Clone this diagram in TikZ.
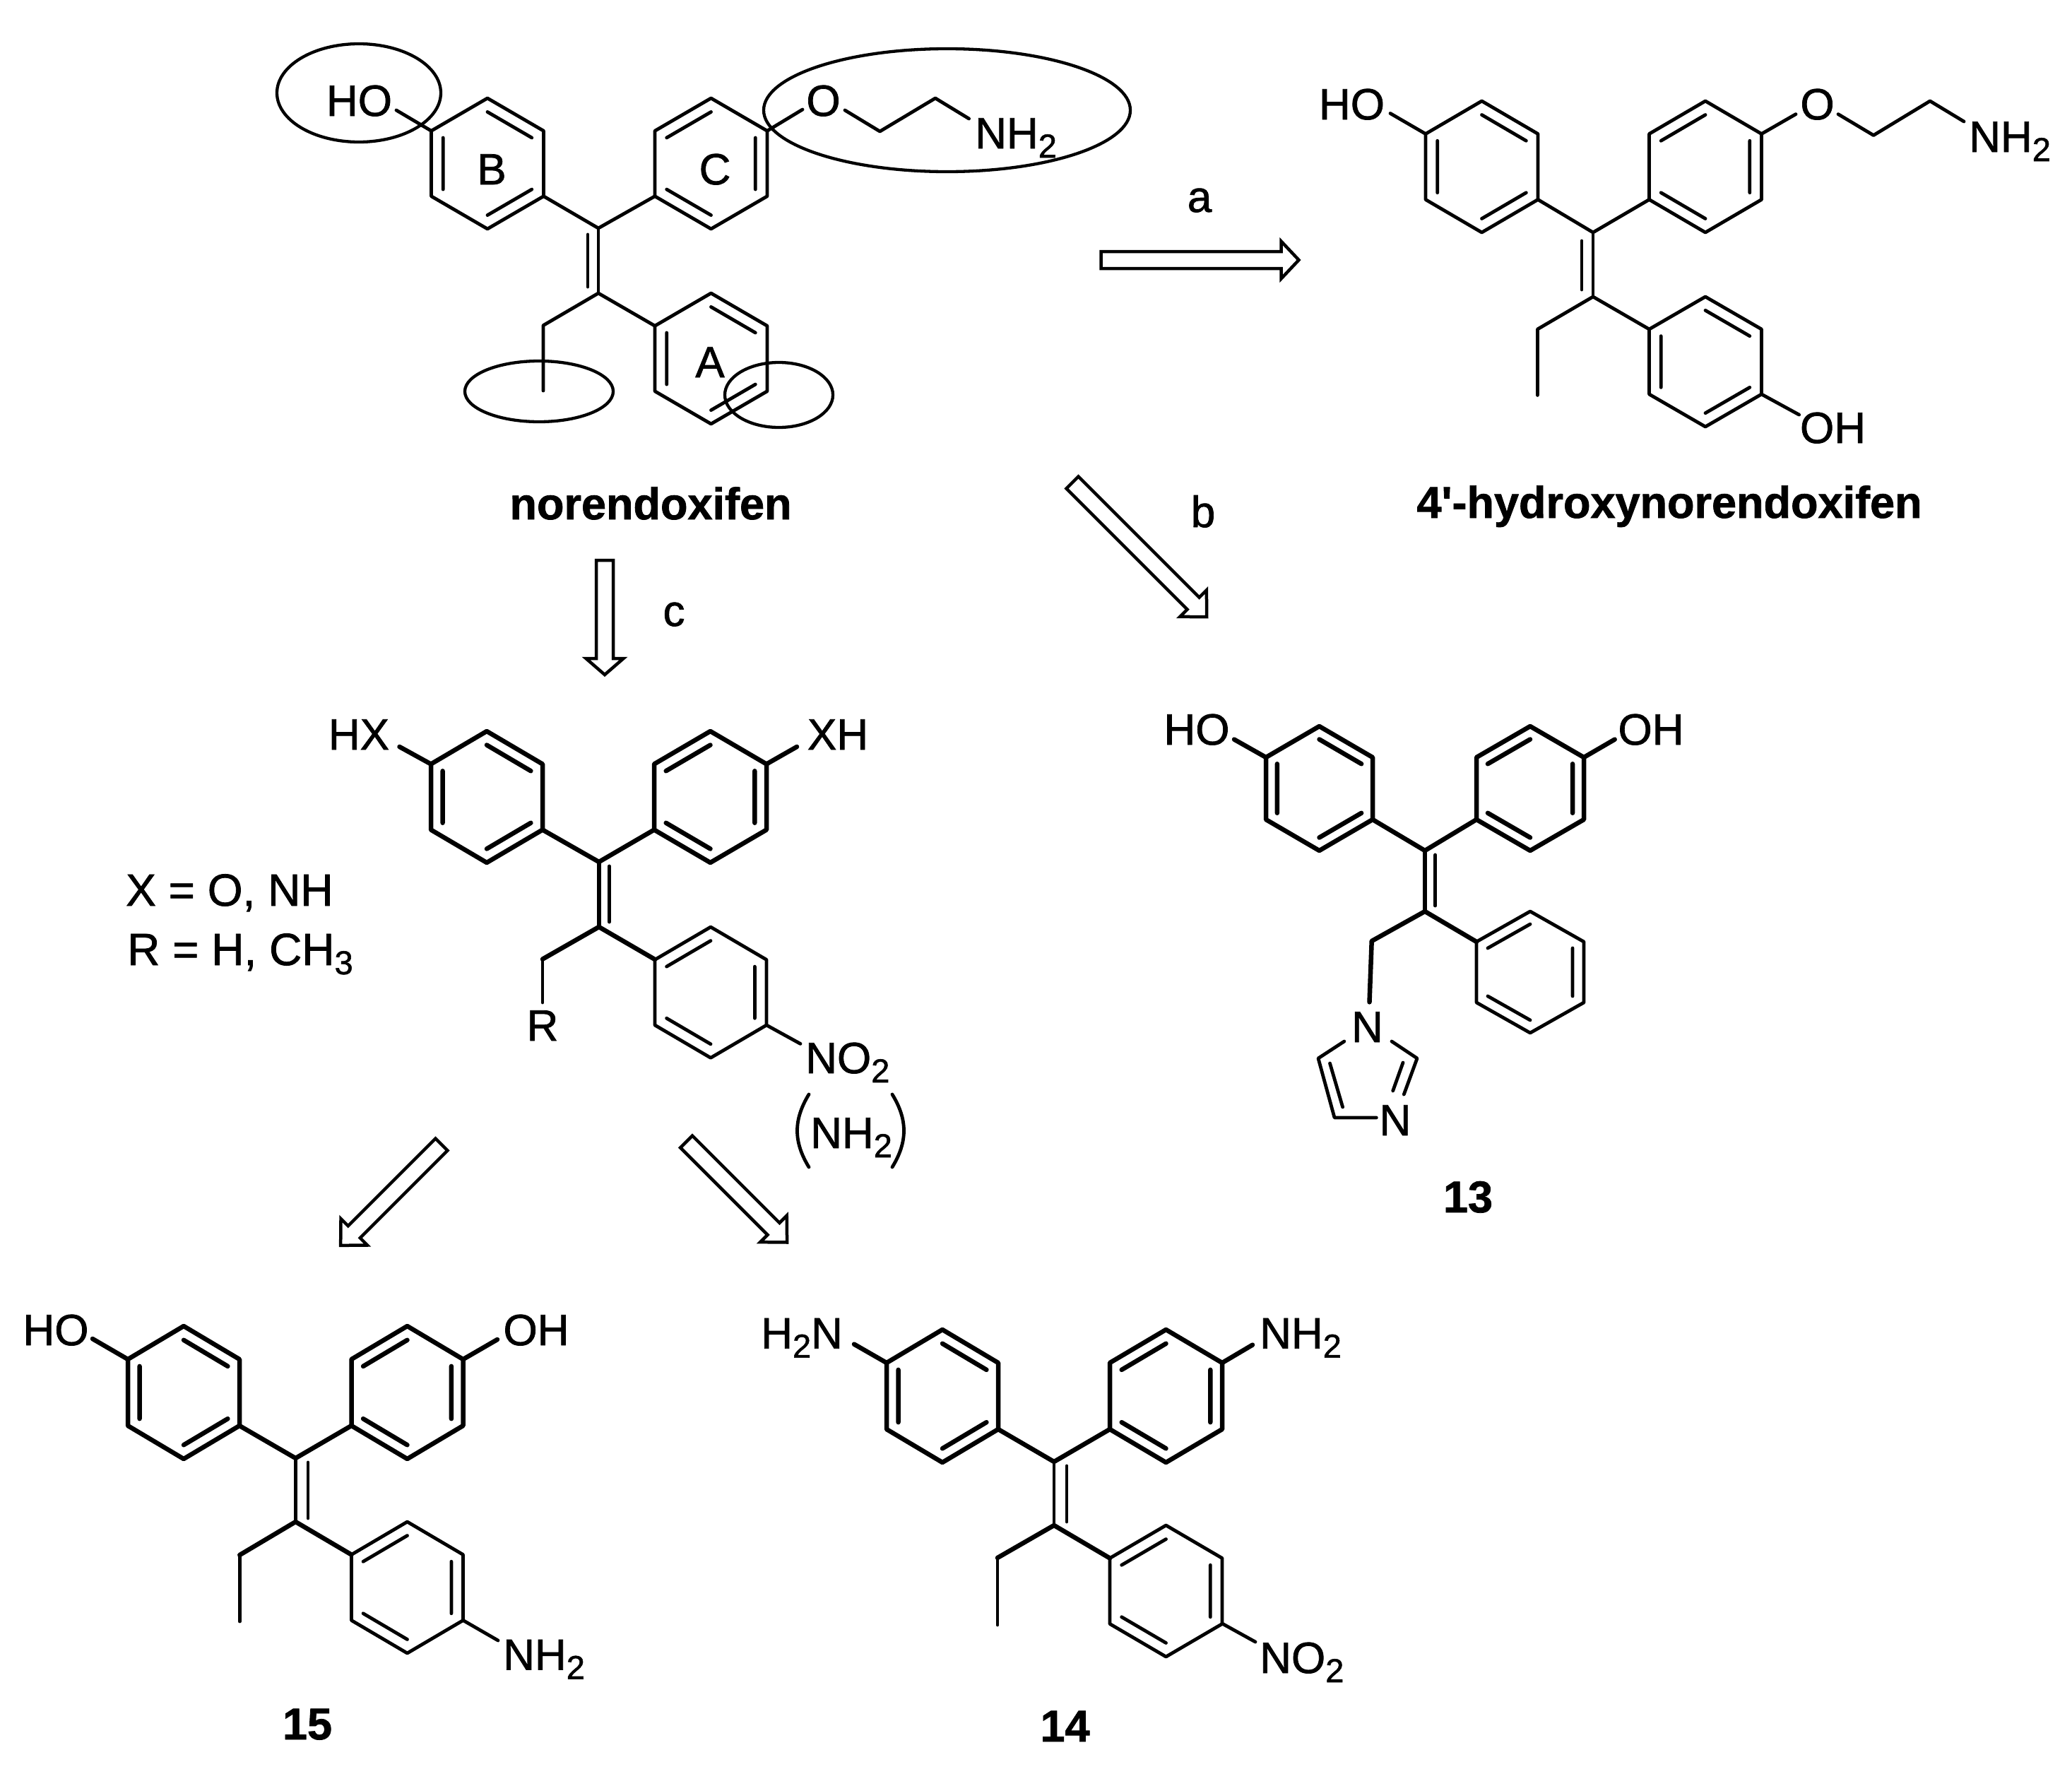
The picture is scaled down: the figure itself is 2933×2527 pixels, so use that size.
\documentclass[tikz,border=0pt]{standalone}
\usepackage{fontspec}
\setmainfont{Liberation Sans}[Ligatures=TeXOff,RawFeature={embolden=1.2}]
\newcommand\lowsub[1]{\raisebox{-13pt}{\fontsize{47}{47}\selectfont #1}}
\tikzset{
  thinb/.style={line width=4.8pt,line cap=round,line join=round},
  thickb/.style={line width=6.5pt,line cap=round,line join=round},
  lab/.style={inner sep=0pt,anchor=base,font=\fontsize{62}{62}\selectfont},
  labw/.style={inner sep=0pt,anchor=base west,font=\fontsize{62}{62}\selectfont},
  deflab/.style={inner sep=0pt,anchor=base west,font=\fontsize{64}{64}\selectfont},
  blab/.style={inner sep=0pt,anchor=base,font=\fontsize{63}{63}\selectfont\bfseries},
  ring/.style={line width=4.3pt},
  hollow/.style={line width=4.5pt,line join=miter,draw=black,fill=white}
}
% cx cy halfwidth quarterheight style ; L type: left, upper right, lower right inner bonds
\newcommand\benzL[5]{\begin{scope}[shift={(#1,#2)},x=#3pt,y=#4pt,#5]
 \draw (0,2)--(1,1)--(1,-1)--(0,-2)--(-1,-1)--(-1,1)--cycle;
 \draw (-.79,.79)--(-.79,-.79) (0,1.58)--(.79,.79) (.79,-.79)--(0,-1.58);
\end{scope}}
\newcommand\benzR[5]{\begin{scope}[shift={(#1,#2)},x=#3pt,y=#4pt,#5]
 \draw (0,2)--(1,1)--(1,-1)--(0,-2)--(-1,-1)--(-1,1)--cycle;
 \draw (.79,.79)--(.79,-.79) (0,1.58)--(-.79,.79) (-.79,-.79)--(0,-1.58);
\end{scope}}
% x y angle length head
\newcommand\openarrow[5]{\begin{scope}[shift={(#1,#2)},rotate=#3]
 \draw[hollow] (0,12)--(#4-#5,12)--(#4-#5,26.5)--(#4,0)--(#4-#5,-26.5)--(#4-#5,-12)--(0,-12)--cycle;
\end{scope}}
\begin{document}
\begin{tikzpicture}[x=1pt,y=-1pt]
\useasboundingbox (0,0) rectangle (2933,2527);
\fill[white] (0,0) rectangle (2933,2527);

% ---------- norendoxifen
\benzL{690}{231.5}{79.5}{46.25}{thinb}
\benzR{1006.5}{231.5}{79.5}{46.25}{thinb}
\benzL{1006.5}{507.5}{79.5}{46.25}{thinb}
\draw[thinb] (769.5,277.75)--(847,323)--(927,277.75);
\draw[thinb] (847,323)--(847,415) (832,332)--(832,406);
\draw[thinb] (927,461.25)--(847,415)--(769,460.6)--(769,553);
\draw[thinb] (610.5,185.25)--(561,156);
\draw[thinb] (1086,185.25)--(1136,155);
\draw[thinb] (1196,156)--(1245.5,186)--(1324,139)--(1371.6,168);
\node[lab] (m1ho) at (508.5,164) {HO};
\node[lab] (m1o) at (1165.5,164) {O};
\node[labw] (m1n) at (1380,210) {NH\lowsub{2}};
\node[lab] (m1b) at (696,261) {B};
\node[lab] (m1c) at (1012,261) {C};
\node[lab] (m1a) at (1005,534) {A};
\node[blab] (m1name) at (921,735) {norendoxifen};
\draw[ring] (508,131.5) ellipse [x radius=116,y radius=69.5];
\draw[ring] (1340.5,156) ellipse [x radius=259.5,y radius=87];
\draw[ring] (763,554) ellipse [x radius=105,y radius=43];
\draw[ring] (1102.5,559) ellipse [x radius=76.5,y radius=46];

% ---------- 4'-hydroxynorendoxifen
\benzL{2097.5}{236}{79.5}{46.5}{thinb}
\benzR{2414}{236}{79.5}{46.5}{thinb}
\benzL{2414}{512}{79.5}{46}{thinb}
\draw[thinb] (2177,282.5)--(2255,329)--(2334.5,282.5);
\draw[thinb] (2255,329)--(2255,420) (2239,341)--(2239,410);
\draw[thinb] (2334.5,466)--(2255,420)--(2176.4,466)--(2176.4,559.4);
\draw[thinb] (2018,189.5)--(1968,160.5);
\draw[thinb] (2493.5,189.5)--(2542,161.6);
\draw[thinb] (2602,161.6)--(2652,191.5)--(2732,143)--(2780,172);
\draw[thinb] (2493.5,558)--(2546.6,587);
\node[lab] (m2ho) at (1913.5,169) {HO};
\node[lab] (m2o) at (2572.5,169) {O};
\node[labw] (m2n) at (2787,215) {NH\lowsub{2}};
\node[lab] (m2oh) at (2594.5,627) {OH};
\node[blab] (m2name) at (2363,733) {4'-hydroxynorendoxifen};

% ---------- arrows and step labels
\openarrow{1558.5}{368}{0}{280}{25}
\openarrow{1518}{683}{-45}{269}{27}
\openarrow{856}{793}{-90}{162}{23}
\openarrow{625}{1620}{-135}{202}{27}
\openarrow{971.6}{1616}{-45}{201.5}{27}
\node[lab] (la) at (1698,300) {a};
\node[lab] (lb) at (1703,746) {b};
\node[lab] (lc) at (954,886) {c};

% ---------- general structure
\benzL{689}{1128}{79}{46.5}{thickb}
\benzR{1005.5}{1128}{79.5}{46.5}{thickb}
\benzR{1006}{1404.7}{79}{46.3}{thinb}
\draw[thickb] (768,1174.5)--(847.8,1220)--(926,1174.5);
\draw[thickb] (847.8,1220)--(847.8,1312);
\draw[thinb] (862.5,1226)--(862.5,1305);
\draw[thickb] (927,1358)--(847.8,1312)--(768,1357.6);
\draw[thinb] (768,1357.6)--(768,1419);
\draw[thickb] (610,1081.5)--(565.5,1057);
\draw[thickb] (1085,1081.5)--(1128,1057);
\draw[thinb] (1085,1451)--(1133,1477.4);
\node[lab] (xhx) at (508,1061) {HX};
\node[lab] (xxh) at (1186,1061) {XH};
\node[lab] (xr) at (768,1473) {R};
\node[labw] (xno) at (1140,1519) {NO\lowsub{2}};
\node[labw] (xnh) at (1147,1625) {NH\lowsub{2}};
\draw[thinb] (1145,1549) .. controls (1123,1585) and (1123,1616) .. (1145,1652);
\draw[thinb] (1263,1549) .. controls (1285,1585) and (1285,1616) .. (1263,1652);
\node[deflab] (xdef) at (178,1282) {X = O, NH};
\node[deflab] (rdef) at (180,1366) {R = H, CH\lowsub{3}};

% ---------- 13
\benzL{1867.5}{1116}{75.5}{44}{thickb}
\benzR{2166}{1116}{76}{44}{thickb}
\benzR{2166}{1376}{76}{43}{thinb}
\draw[thickb] (1943,1160)--(2017,1204)--(2090,1160);
\draw[thickb] (2017,1204)--(2017,1290);
\draw[thinb] (2031.7,1210)--(2031.7,1282);
\draw[thickb] (2090,1333)--(2017,1290)--(1941.7,1332)--(1938.5,1418.4);
\draw[thickb] (1792,1072)--(1747,1046.6);
\draw[thickb] (2242,1072)--(2285.7,1046.6);
\draw[thinb] (1902.8,1474)--(1866,1498)--(1889,1582)--(1948.3,1582);
\draw[thinb] (1882.5,1505)--(1900.6,1567);
\draw[thinb] (1970,1474)--(2006,1498)--(1987.3,1549);
\draw[thinb] (1986,1504)--(1971.7,1544);
\node[lab] (m13ho) at (1694,1054) {HO};
\node[lab] (m13oh) at (2337,1054) {OH};
\node[lab] (m13n1) at (1935.5,1475) {N};
\node[lab] (m13n2) at (1975,1607) {N};
\node[blab] (m13name) at (2078,1716) {13};

% ---------- 15
\benzL{260}{1971}{79}{47}{thickb}
\benzR{576.5}{1971}{79}{47}{thickb}
\benzR{576.5}{2247}{79}{46.5}{thinb}
\draw[thickb] (339,2018)--(418.4,2064)--(497.4,2018);
\draw[thinb] (418.4,2064)--(418.4,2154) (436,2070)--(436,2149);
\draw[thickb] (497.4,2200.5)--(418.4,2154)--(339.3,2201);
\draw[thinb] (339.3,2201)--(339.3,2295);
\draw[thickb] (181,1924)--(131,1895);
\draw[thickb] (655.6,1924)--(704,1896);
\draw[thinb] (655.6,2293.5)--(705,2322);
\node[lab] (m15ho) at (79,1904) {HO};
\node[lab] (m15oh) at (759,1904) {OH};
\node[labw] (m15n) at (712,2363.5) {NH\lowsub{2}};
\node[blab] (m15name) at (435,2462) {15};

% ---------- 14
\benzL{1334}{1976}{79}{47}{thickb}
\benzR{1650.5}{1976}{79.5}{47}{thickb}
\benzR{1650.5}{2252}{79.5}{46.5}{thinb}
\draw[thickb] (1413,2023)--(1492,2069)--(1571,2023);
\draw[thinb] (1492,2069)--(1492,2159) (1510,2075)--(1510,2154);
\draw[thickb] (1571,2205.5)--(1492,2159)--(1412,2205);
\draw[thinb] (1412,2205)--(1412,2300);
\draw[thickb] (1255,1929)--(1209,1902.6);
\draw[thickb] (1730,1929)--(1773,1903.6);
\draw[thinb] (1730,2298)--(1777,2324);
\node[labw] (m14h2n) at (1077,1908.6) {H\lowsub{2}N};
\node[labw] (m14n) at (1783,1908.6) {NH\lowsub{2}};
\node[labw] (m14no) at (1783,2368) {NO\lowsub{2}};
\node[blab] (m14name) at (1507.6,2465) {14};
\end{tikzpicture}
\end{document}
